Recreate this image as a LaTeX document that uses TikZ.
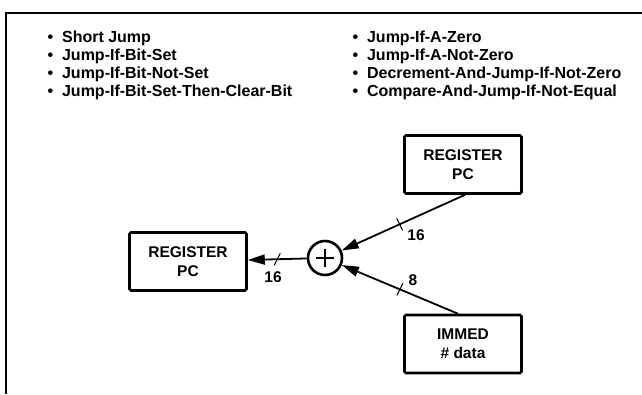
\documentclass[tikz,border=0pt]{standalone}
\usepackage{fontspec}
\setmainfont{Liberation Sans}
\usetikzlibrary{arrows.meta,calc}
\begin{document}
\begin{tikzpicture}[x=1pt,y=-1pt,
  txt/.style={font=\fontsize{15.5}{19}\selectfont\bfseries, inner sep=0pt},
  item/.style={font=\fontsize{16}{19}\selectfont\bfseries, inner sep=0pt, anchor=base west},
  regbox/.style={draw, line width=2.6pt, rounded corners=1.5pt, minimum width=117pt, minimum height=58pt, align=center, txt},
  conn/.style={line width=1.8pt, -{Triangle[length=17pt,width=10pt]}},
  tickmark/.style={line width=1pt},
  lbl/.style={txt}
]
\useasboundingbox (0,0) rectangle (642,394);
\draw[line width=2pt] (6,394) -- (6,13) -- (642,13);

% bullet lists
\node[item] (a1) at (47.3,42.5) {\textbullet\hspace{9pt}Short Jump};
\node[item] (a2) at (47.3,60.5) {\textbullet\hspace{9pt}Jump-If-Bit-Set};
\node[item] (a3) at (47.3,78.5) {\textbullet\hspace{9pt}Jump-If-Bit-Not-Set};
\node[item] (a4) at (47.3,96.5) {\textbullet\hspace{9pt}Jump-If-Bit-Set-Then-Clear-Bit};
\node[item] (b1) at (352.3,42.5) {\textbullet\hspace{9pt}Jump-If-A-Zero};
\node[item] (b2) at (352.3,60.5) {\textbullet\hspace{9pt}Jump-If-A-Not-Zero};
\node[item] (b3) at (352.3,78.5) {\textbullet\hspace{9pt}Decrement-And-Jump-If-Not-Zero};
\node[item] (b4) at (352.3,96.5) {\textbullet\hspace{9pt}Compare-And-Jump-If-Not-Equal};

% boxes
\node[regbox] (pcl) at (188,261.5) {REGISTER\\PC};
\node[regbox] (pct) at (463,164.5) {REGISTER\\PC};
\node[regbox] (imm) at (463,344) {IMMED\\\# data};
\node[circle, draw, line width=2.6pt, minimum size=34pt, inner sep=0pt] (sum) at (325,258) {};
\draw[line width=1.8pt] ($(sum.center)+(-9,0)$) -- ($(sum.center)+(9,0)$)
  ($(sum.center)+(0,-9)$) -- ($(sum.center)+(0,9)$);

% connectors
\draw[conn] (sum) -- coordinate[pos=0.5] (t1) (pcl);
\draw[conn] ([xshift=2pt]pct.south) -- coordinate[pos=0.53] (t2) (sum);
\draw[conn] ([xshift=-5pt]imm.north) -- coordinate[pos=0.5] (t3) (sum);

% bus width ticks
\draw[tickmark] ($(t1)+(3,-6)$) -- ($(t1)+(-3,6)$);
\draw[tickmark] ($(t2)+(-3,-6)$) -- ($(t2)+(3,6)$);
\draw[tickmark] ($(t3)+(3,-6)$) -- ($(t3)+(-3,6)$);

% labels
\node[lbl] (l1) at (273,277) {16};
\node[lbl] (l2) at (416,235) {16};
\node[lbl] (l3) at (413,280) {8};
\end{tikzpicture}
\end{document}
